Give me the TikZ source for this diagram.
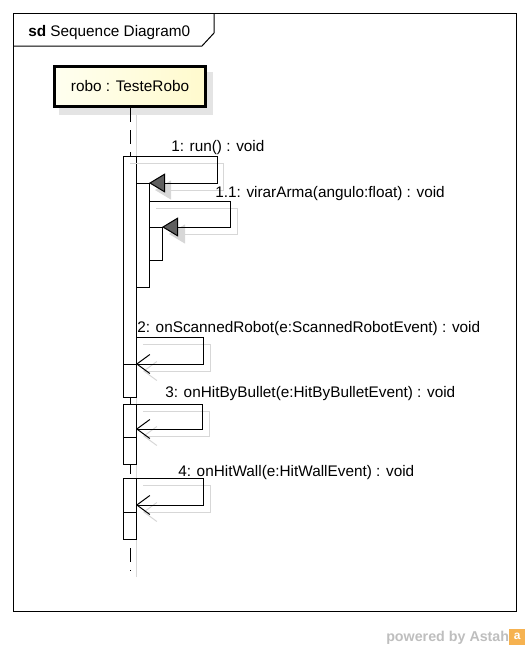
\documentclass[tikz,border=0pt]{standalone}
\usepackage{fontspec}
\setmainfont{Liberation Sans}
\usetikzlibrary{arrows.meta,calc}
\definecolor{lifelight}{RGB}{255,255,240}
\definecolor{lifedark}{RGB}{255,250,205}
\definecolor{shadowgray}{RGB}{215,215,215}
\definecolor{boxshadow}{RGB}{228,228,228}
\definecolor{headgray}{RGB}{95,95,95}
\definecolor{astahgray}{RGB}{190,190,190}
\definecolor{astahorange}{RGB}{246,178,80}
\tikzstyle{actbar} = [draw,fill=white,line width=0.75pt,minimum width=9.75pt,inner sep=0pt,outer sep=0pt,anchor=north]
\tikzstyle{lifebox} = [draw,line width=2.25pt,left color=lifelight,right color=lifedark,minimum width=113.25pt,minimum height=30pt,inner sep=0pt,font=\fontsize{11.5}{13.8}\selectfont]
\tikzstyle{syncmsg} = [line width=0.75pt,-{Triangle[length=12pt,width=14.25pt,fill=headgray]}]
\tikzstyle{openmsg} = [line width=0.75pt,-{Straight Barb[length=9.75pt,width=14.25pt]}]
\tikzstyle{syncshadow} = [shadowgray,line width=0.75pt,-{Triangle[length=12pt,width=14.25pt,fill=shadowgray]}]
\tikzstyle{openshadow} = [shadowgray,line width=0.75pt,-{Straight Barb[length=9.75pt,width=14.25pt]}]
\tikzstyle{msgtext} = [anchor=base west,inner sep=0pt,font=\fontsize{11.5}{13.8}\selectfont]

\begin{document}
\begin{tikzpicture}[x=0.75pt,y=-0.75pt]
  \useasboundingbox (0,0) rectangle (530,650);

  % frame
  \draw[line width=0.75pt] (13,13) rectangle (516,611);
  \draw[line width=0.75pt] (13,46) -- (202,46) -- (214,33) -- (214,13);
  \node[msgtext] (title) at (28,36) {\textbf{sd} Sequence Diagram0};

  % lifeline
  \fill[boxshadow] (59,72) rectangle (213,115);
  \draw[shadowgray,line width=0.75pt] (136,115) -- (136,577);
  \node[lifebox] (robo) at (130,86.5) {robo : TesteRobo};
  \coordinate (roboend) at (130,571);
  \draw[line width=0.75pt,dash pattern=on 10.5pt off 6pt] (robo.south) -- (roboend);

  % activations
  \node[actbar,minimum height=180.75pt] (A0) at (129.5,156) {};
  \node[actbar,minimum height=78pt] (A1) at (142.5,183) {};
  \node[actbar,minimum height=24.75pt] (A2) at (155.5,227) {};
  \node[actbar,minimum height=24.75pt] (B) at (129.5,364) {};
  \node[actbar,minimum height=45pt] (C) at (129.5,404) {};
  \node[actbar,minimum height=20.25pt] (D) at (129.5,437) {};
  \node[actbar,minimum height=45.75pt] (E) at (129.5,478) {};
  \node[actbar,minimum height=20.25pt] (F) at (129.5,512) {};

  % shadows
  \draw[syncshadow] ($(A0.north east)+(-6,7)$) -- ++(93,0) |- ($(A1.north east)+(6,7)$);
  \draw[syncshadow] ($(A1.north east)+(7,25)$) -- ++(81,0) |- ($(A2.north east)+(7,7)$);
  \draw[openshadow] ($(A0.north east)+(7,188)$) -- ++(67,0) |- ($(B.north east)+(7,7)$);
  \draw[openshadow] ($(C.north east)+(7,7)$) -- ++(66,0) |- ($(D.north east)+(7,-1)$);
  \draw[openshadow] ($(E.north east)+(7,7)$) -- ++(67,0) |- ($(F.north east)+(7,0)$);

  % messages
  \draw[syncmsg] (A0.north east) -- ++(81,0) |- (A1.north east);
  \draw[syncmsg] ($(A1.north east)+(0,18)$) -- ++(81,0) |- (A2.north east);
  \draw[openmsg] ($(A0.north east)+(0,181)$) -- ++(67,0) |- (B.north east);
  \draw[openmsg] (C.north east) -- ++(66,0) |- ($(D.north east)+(0,-8)$);
  \draw[openmsg] (E.north east) -- ++(67,0) |- ($(F.north east)+(0,-7)$);

  \node[msgtext] (m1text) at (171,151) {1: run() : void};
  \node[msgtext] (m11text) at (215,197) {1.1: virarArma(angulo:float) : void};
  \node[msgtext] (m2text) at (137,332) {2: onScannedRobot(e:ScannedRobotEvent) : void};
  \node[msgtext] (m3text) at (165,397) {3: onHitByBullet(e:HitByBulletEvent) : void};
  \node[msgtext] (m4text) at (178,476) {4: onHitWall(e:HitWallEvent) : void};

  % logo
  \node[anchor=base west,inner sep=0pt,text=astahgray,font=\fontsize{10.7}{12}\selectfont\bfseries] (powered) at (386,641) {powered by Astah};
  \node[fill=astahorange,minimum size=12pt,inner sep=0pt,anchor=south west,text=white,font=\fontsize{9}{9}\selectfont\bfseries] (logo) at (509,645) {a};
\end{tikzpicture}
\end{document}
